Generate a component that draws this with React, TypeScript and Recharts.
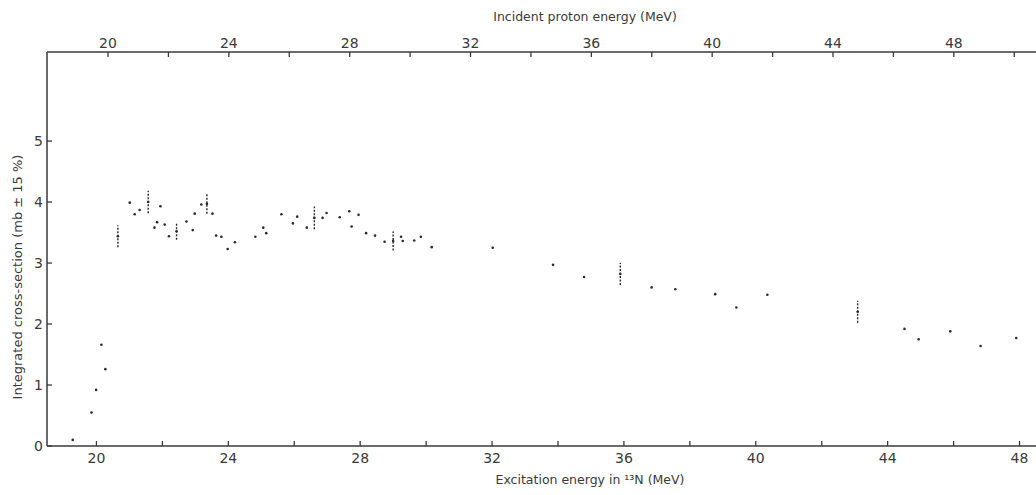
import { ScatterChart, Scatter, XAxis, YAxis, ErrorBar } from 'recharts'

// excitation energy in 13N (MeV) and integrated cross-section (mb)
const excitation = [19.28, 19.85, 19.99, 20.15, 20.27, 21.01, 21.16, 21.31, 21.94, 21.76, 21.84, 22.07, 22.2, 22.73, 22.92, 22.98, 23.18, 23.52, 23.63, 23.79, 23.98, 24.2, 24.82, 25.06, 25.15, 25.61, 25.96, 26.09, 26.38, 26.86, 26.98, 27.38, 27.67, 27.74, 27.95, 28.18, 28.45, 28.74, 29.24, 29.29, 29.64, 29.84, 30.17, 32.02, 33.85, 34.79, 36.84, 37.56, 38.77, 39.41, 40.35, 44.51, 44.94, 45.9, 46.82, 47.9]
const crossSection = [0.1, 0.55, 0.92, 1.66, 1.26, 3.99, 3.8, 3.87, 3.93, 3.58, 3.67, 3.63, 3.44, 3.68, 3.54, 3.81, 3.96, 3.81, 3.45, 3.43, 3.23, 3.34, 3.43, 3.58, 3.49, 3.8, 3.65, 3.76, 3.58, 3.74, 3.82, 3.75, 3.85, 3.6, 3.79, 3.49, 3.45, 3.35, 3.43, 3.36, 3.37, 3.43, 3.26, 3.25, 2.97, 2.77, 2.6, 2.57, 2.49, 2.27, 2.48, 1.92, 1.75, 1.88, 1.64, 1.77]

// points drawn with an error bar
const barExcitation = [20.65, 21.57, 22.43, 23.35, 26.61, 29.0, 35.89, 43.09]
const barSigma = [3.44, 4.0, 3.52, 3.97, 3.74, 3.36, 2.82, 2.2]
const barError = [0.18, 0.185, 0.14, 0.16, 0.185, 0.155, 0.18, 0.18]

const excitationTicks = [20, 22, 24, 26, 28, 30, 32, 34, 36, 38, 40, 42, 44, 46, 48]
const protonTicks = [20, 22, 24, 26, 28, 30, 32, 34, 36, 38, 40, 42, 44, 46, 48, 50]
const sigmaTicks = [0, 1, 2, 3, 4, 5]

const INK = '#3a3a3a'
const FONT = 'DejaVu Sans, sans-serif'

const points = excitation.map((x, i) => ({ x, y: crossSection[i] }))
const barPoints = barExcitation.map((x, i) => ({ x, y: barSigma[i], err: barError[i] }))
// invisible anchor so the top (proton energy) axis gets a scale
const protonAnchor = protonTicks.map((x) => ({ x, y: 0 }))

function BottomTick(props: any) {
  const { x, y, payload } = props
  return (
    <g>
      <line x1={x} y1={y} x2={x} y2={y - 5} stroke={INK} strokeWidth={1.3} />
      {payload.value % 4 === 0 && (
        <text x={x} y={y + 17} textAnchor="middle" fontSize={14} fontFamily={FONT} fill={INK}>
          {payload.value}
        </text>
      )}
    </g>
  )
}

function TopTick(props: any) {
  const { x, y, payload } = props
  return (
    <g>
      <line x1={x} y1={y} x2={x} y2={y + 5} stroke={INK} strokeWidth={1.3} />
      {payload.value % 4 === 0 && (
        <text x={x} y={y - 4} textAnchor="middle" fontSize={14} fontFamily={FONT} fill={INK}>
          {payload.value}
        </text>
      )}
    </g>
  )
}

function LeftTick(props: any) {
  const { x, y, payload } = props
  return (
    <g>
      <line x1={x} y1={y} x2={x + 5} y2={y} stroke={INK} strokeWidth={1.3} />
      <text x={x - 4} y={y + 5} textAnchor="end" fontSize={14} fontFamily={FONT} fill={INK}>
        {payload.value}
      </text>
    </g>
  )
}

const dot = (p: any) => <circle cx={p.cx} cy={p.cy} r={1.3} fill="#2a2a2a" />
const noDot = () => <g />

export default function App() {
  return (
    <div style={{ position: 'absolute', left: 0, top: 0, width: 1036, height: 495, background: '#fff' }}>
      <ScatterChart width={1036} height={495} margin={{ top: 0, right: 0, bottom: 0, left: 0 }}>
        <XAxis
          xAxisId="ex"
          dataKey="x"
          type="number"
          orientation="bottom"
          domain={[18.5, 48.5]}
          allowDataOverflow
          ticks={excitationTicks}
          height={49}
          tickSize={0}
          tickMargin={0}
          tick={<BottomTick />}
          axisLine={{ stroke: INK, strokeWidth: 1.5 }}
          label={(p: any) => (
            <text x={590} y={p.viewBox.y + 38} textAnchor="middle" fontSize={12.5} fontFamily={FONT} fill={INK}>
              Excitation energy in ¹³N (MeV)
            </text>
          )}
        />
        <XAxis
          xAxisId="ep"
          dataKey="x"
          type="number"
          orientation="top"
          domain={[17.98, 50.72]}
          allowDataOverflow
          ticks={protonTicks}
          height={52}
          tickSize={0}
          tickMargin={0}
          tick={<TopTick />}
          axisLine={{ stroke: INK, strokeWidth: 1.5 }}
          label={() => (
            <text x={585} y={21} textAnchor="middle" fontSize={12.5} fontFamily={FONT} fill={INK}>
              Incident proton energy (MeV)
            </text>
          )}
        />
        <YAxis
          yAxisId="s"
          dataKey="y"
          type="number"
          domain={[0, 6.46]}
          allowDataOverflow
          ticks={sigmaTicks}
          width={47}
          tickSize={0}
          tickMargin={0}
          tick={<LeftTick />}
          axisLine={{ stroke: INK, strokeWidth: 1.5 }}
          label={() => (
            <text
              x={17}
              y={277}
              transform="rotate(-90 17 277)"
              textAnchor="middle"
              dominantBaseline="central"
              fontSize={13}
              fontFamily={FONT}
              fill={INK}
            >
              Integrated cross-section (mb ± 15 %)
            </text>
          )}
        />
        <Scatter xAxisId="ep" yAxisId="s" data={protonAnchor} shape={noDot} isAnimationActive={false} />
        <Scatter xAxisId="ex" yAxisId="s" data={points} shape={dot} isAnimationActive={false} />
        <Scatter xAxisId="ex" yAxisId="s" data={barPoints} shape={dot} isAnimationActive={false}>
          <ErrorBar dataKey="err" direction="y" width={0} stroke="#2a2a2a" strokeWidth={1.4} strokeDasharray="2 1.5" isAnimationActive={false} />
        </Scatter>
      </ScatterChart>
    </div>
  )
}
